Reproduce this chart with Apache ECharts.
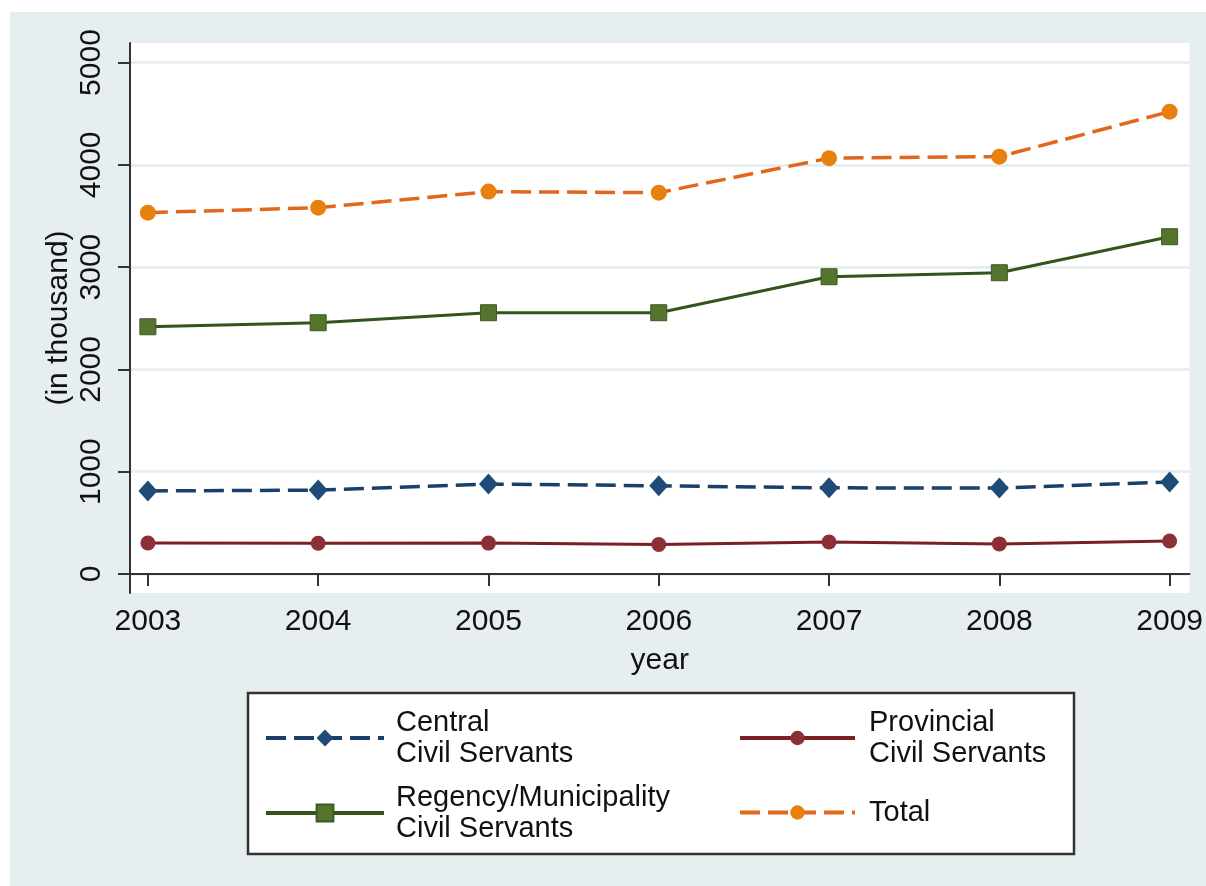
<!DOCTYPE html>
<html>
<head>
<meta charset="utf-8">
<script src="https://cdn.jsdelivr.net/npm/echarts@6/dist/echarts.min.js"></script>
<style>
  html, body { margin: 0; padding: 0; background: #ffffff; }
  #chart { width: 1206px; height: 886px; }
</style>
</head>
<body>
<div id="chart"></div>
<script>
// data (in thousand)
const years = [2003, 2004, 2005, 2006, 2007, 2008, 2009]
const central = [812, 820, 880, 862, 842, 840, 900]
const provincial = [303, 300, 302, 288, 312, 294, 323]
const regency = [2417, 2456, 2554, 2554, 2906, 2945, 3297]
const total = [3532, 3581, 3738, 3728, 4065, 4080, 4520]
const yTicks = [0, 1000, 2000, 3000, 4000, 5000]

const pairs = (vals) => years.map((y, i) => [y, vals[i]])

const chart = echarts.init(document.getElementById('chart'))
const font = 'Liberation Sans, Arial, sans-serif'

const option = {
  backgroundColor: '#ffffff',
  animation: false,
  textStyle: { fontFamily: font },
  graphic: [
    {
      type: 'rect', z: -10, silent: true,
      shape: { x: 10, y: 12, width: 1196, height: 874 },
      style: { fill: '#e7eef0' }
    },
    {
      type: 'rect', z: 0, silent: true,
      shape: { x: 248, y: 693, width: 826, height: 161 },
      style: { fill: '#ffffff', stroke: '#333333', lineWidth: 2.5 }
    }
  ],
  grid: {
    left: 130, right: 13, top: 43, bottom: 293,
    show: true, backgroundColor: '#ffffff', borderWidth: 0
  },
  xAxis: {
    type: 'value',
    min: 2002.895,
    max: 2009.117,
    name: 'year',
    nameLocation: 'middle',
    nameGap: 53,
    nameTextStyle: { color: '#111', fontSize: 30, fontFamily: font },
    axisLine: { show: true, lineStyle: { color: '#333', width: 2 } },
    axisTick: { show: true, length: 12, lineStyle: { color: '#333', width: 2 }, customValues: years },
    axisLabel: { color: '#111', fontSize: 30, margin: 14, fontFamily: font, customValues: years, formatter: (v) => String(v) },
    splitLine: { show: false }
  },
  yAxis: {
    type: 'value',
    min: -186,
    max: 5191,
    name: '(in thousand)',
    nameLocation: 'middle',
    nameGap: 56,
    nameMoveOverlap: false,
    nameRotate: 90,
    nameTextStyle: { color: '#111', fontSize: 30, fontFamily: font },
    axisLine: { show: true, lineStyle: { color: '#333', width: 2 } },
    axisTick: { show: true, length: 12, lineStyle: { color: '#333', width: 2 }, customValues: yTicks },
    axisLabel: { color: '#111', fontSize: 30, margin: 23, rotate: 90, fontFamily: font, customValues: yTicks, formatter: (v) => String(v) },
    splitLine: { show: true, lineStyle: { color: '#e3ecef', width: 2.5 } }
  },
  legend: [
    {
      orient: 'vertical',
      left: 259, top: 702,
      itemWidth: 118, itemHeight: 21, itemGap: 13,
      data: ['Central\nCivil Servants', 'Regency/Municipality\nCivil Servants'],
      lineStyle: { width: 4 },
      textStyle: { color: '#111', fontSize: 29, lineHeight: 31, fontFamily: font, padding: [0, 0, 0, 7] }
    },
    {
      orient: 'vertical',
      left: 733, top: 702,
      itemWidth: 115, itemHeight: 18, itemGap: 28,
      data: ['Provincial\nCivil Servants', 'Total'],
      lineStyle: { width: 4 },
      textStyle: { color: '#111', fontSize: 29, lineHeight: 31, fontFamily: font, padding: [0, 0, 0, 9] }
    }
  ],
  series: [
    {
      name: 'Central\nCivil Servants',
      type: 'line',
      data: pairs(central),
      symbol: 'diamond',
      symbolSize: [19, 21],
      lineStyle: { color: '#1a3f6a', width: 3.5, type: [20, 8] },
      itemStyle: { color: '#1f4b78' },
      z: 3
    },
    {
      name: 'Provincial\nCivil Servants',
      type: 'line',
      data: pairs(provincial),
      symbol: 'circle',
      symbolSize: 15,
      lineStyle: { color: '#7a1f25', width: 3 },
      itemStyle: { color: '#8c3038' },
      z: 3
    },
    {
      name: 'Regency/Municipality\nCivil Servants',
      type: 'line',
      data: pairs(regency),
      symbol: 'rect',
      symbolSize: 16,
      lineStyle: { color: '#33541a', width: 3 },
      itemStyle: { color: '#55752f', borderColor: '#3d5a22', borderWidth: 1 },
      z: 3
    },
    {
      name: 'Total',
      type: 'line',
      data: pairs(total),
      symbol: 'circle',
      symbolSize: 16,
      lineStyle: { color: '#e2661c', width: 3.5, type: [20, 8] },
      itemStyle: { color: '#e8800e' },
      z: 3
    }
  ]
}

chart.setOption(option)
</script>
</body>
</html>
